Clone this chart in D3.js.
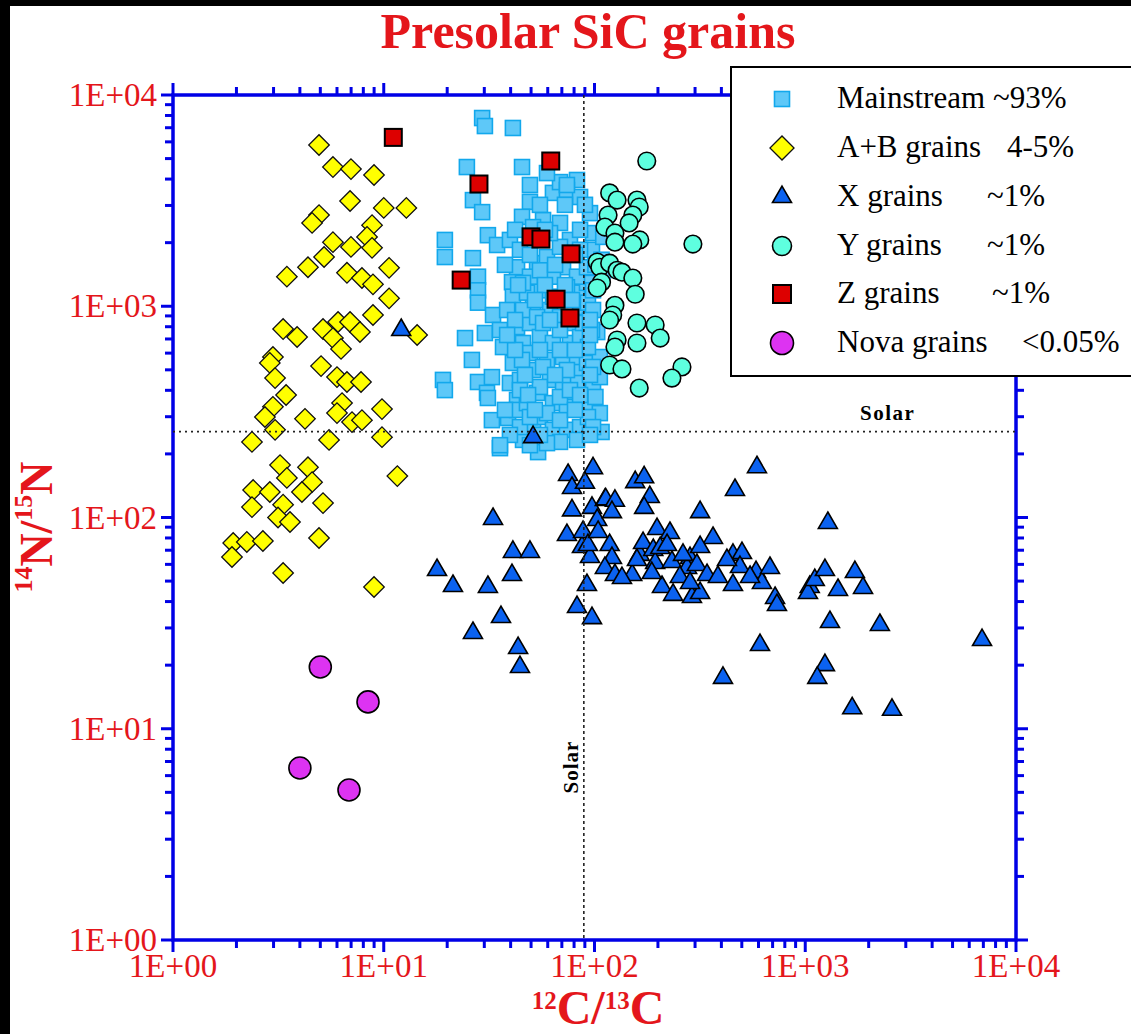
<!DOCTYPE html>
<html><head><meta charset="utf-8">
<script src="https://cdn.jsdelivr.net/npm/d3@7"></script>
<style>body{margin:0;background:#fff;overflow:hidden}</style>
</head><body>
<svg id="chart" width="1131" height="1034"></svg>
<script>
// ---- data: [12C/13C, 14N/15N] ----
const mainstream = [
[29.3,7780],[30.2,7130],[41.0,6980],
[24.8,4560],[45.3,4560],[26.5,3180],[29.3,2790],[19.5,2060],[19.5,1710],[31.2,2170],[34.5,1950],[26.5,1690],
[28.0,1380],[28.0,1190],[28.0,1040],[33.0,909],[24.3,707],[30.2,747],[36.8,641],[26.2,557],[19.1,448],[19.5,401],
[28.0,438],[30.9,389],[32.6,289],[38.9,296],[35.6,213],[54.0,204],[49.4,3120],[63.5,3440],[68.6,3870],[82.6,3960],
[59.5,4270],[45.3,2650],[39.7,2060],[44.3,1850],[42.9,1530],[40.6,1300],[41.0,1110],[38.5,960],[42.9,797],[35.6,772],
[45.8,670],[41.0,539],[39.7,433],[42.9,360],[42.9,323],[51.1,268],[55.1,299],[63.5,260],[74.0,260],[85.4,268],
[92.1,334],[106,312],[103,755],[88.2,621],[85.4,499],[82.6,433],[79.1,372],[98.4,433],[95.2,2760],[98.4,2220],
[97.3,1850],[57.0,2560],[68.6,2480],[76.5,2060],[70.9,1530],[63.5,1380],[53.4,1600],[55.1,1190],[51.1,992],[49.4,833],
[55.1,715],[63.5,670],[76.5,670],[70.9,575],[59.5,557],[51.1,499],[61.5,448],[70.9,433],[53.4,389],[63.5,348],
[74.0,334],[59.5,312],[68.6,289],[47.8,348],[82.6,575],[92.1,539],[85.4,992],[82.6,1160],[92.1,1290],[82.6,1380],
[92.1,1530],[85.4,1850],[49.4,601],[44.3,448],[45.3,557],[47.8,1160],[45.8,960],[61.5,960],[68.6,889],[79.1,833],
[74.0,1230],[63.5,1110],[59.5,1710],[68.6,1910],[51.1,2370],[110,2130],[108,1660],[110,1480],[106,575],[106,462],
[108,254],[82.6,233],[68.6,228],[59.5,225],[45.8,233],[44.3,268],[74.0,3550],[85.4,3290],[31.2,368],[32.6,462],
[97.3,772],[49.4,2130],[55.1,2130],[61.5,2220],[49.4,1380],[55.1,1480],[45.8,1290],[53.4,889],[57.0,833],[68.6,772],
[74.0,499],[57.0,516],[55.1,415],[68.6,372],[44.3,401],[49.4,299],[76.5,401],[85.4,715],[88.2,833],[93.1,1040],
[98.4,1190],[98.4,960],[93.1,641],[98.4,516],[101,372],[93.1,299],[98.4,268],
[55.1,3020],[72.4,3020],[90.1,3020],[42.0,2300],[58.2,2300],[85.4,2300],[49.4,1750],[80.8,1750],
[43.4,1260],[58.2,1260],[72.4,1260],[52.2,1070],[78.2,1070],[42.0,861],[61.5,861],[95.2,861],
[42.0,621],[55.1,621],[68.6,621],[80.8,621],[46.8,473],[65.0,473],[95.2,473],[48.4,380],[85.4,380],
[37.6,323],[52.2,323],[80.8,323],[39.7,246],[55.1,246],[95.2,246],[35.6,220],[49.4,220],
[37.6,1570],[65.0,1570],[101,1570],[38.5,731],[95.2,731],[49.4,3750],[74.0,3750]
];
const abGrains = [
[4.93,5800],[5.74,4560],[6.99,4460],[8.99,4180],[6.92,3150],[10.0,2920],[12.8,2920],[4.93,2700],[4.57,2480],[8.80,2420],
[8.33,2130],[5.74,2010],[6.99,1910],[8.80,1890],[5.21,1710],[4.37,1530],[3.47,1380],[6.69,1440],[7.88,1360],[8.89,1270],
[10.6,1520],[10.6,1090],[8.89,909],[3.33,780],[3.88,715],[5.15,780],[6.07,842],[6.92,842],[7.71,755],[5.74,707],
[6.27,628],[14.4,731],[2.98,575],[2.88,539],[3.05,457],[5.04,521],[6.00,462],[6.69,438],[7.80,438],[3.44,380],
[2.98,334],[2.73,299],[3.05,260],[2.37,228],[4.23,293],[5.50,233],[6.34,348],[6.00,312],[7.07,283],[7.88,289],
[9.81,326],[9.81,240],[3.22,177],[3.47,154],[4.37,173],[4.57,147],[4.09,132],[5.15,117],[11.6,157],[2.40,135],
[2.88,132],[2.37,112],[3.33,115],[3.15,100],[3.59,95.2],[1.93,75.7],[2.24,76.6],[2.67,77.4],[1.905,65.0],[4.93,80],
[3.33,54.6],[8.99,46.9]
];
const xGrains = [
[33.0,98.4],[41.0,68.7],[49.4,68.7],[40.6,53.4],[17.9,56.4],[21.3,47.4],[31.2,46.9],[36.0,33.8],[26.5,28.4],[43.4,24.1],
[44.3,19.6],[51.1,240],[12.1,772],
[74.9,159],[98.4,171],[78.2,138],[90.1,146],[78.2,108],[97.3,111],[112,121],[74.0,82.6],[87.2,72.5],[95.2,65.0],
[92.1,47.9],[82.6,37.7],[97.3,33.4],[88.2,85.4],[93.1,74.1],[103,97.3],[104,85.4],[113,122],[125,120],[121,106],
[118,74.1],[121,64.3],[112,57.7],[125,53.4],[151,53.4],[164,66.5],[170,75.7],[156,147],[172,155],[183,125],[172,111],
[198,88.2],[228,84.5],[190,70.2],[194,60.9],[209,46.9],[236,43.0],[233,61.6],[284,64.3],[317,106],[275,57.7],[306,59.6],
[290,42.0],[317,43.9],[342,53.4],[365,80.0],[317,72.5],[385,52.3],[454,47.9],[454,66.5],[501,67.9],[490,58.3],
[584,55.2],[623,49.0],[680,57.7],[464,135],[590,173],[719,41.6],[734,38.5],[1280,94.2],[1050,46.9],[1030,43.9],
[1110,50.6],[1240,56.4],[1430,45.4],[1720,55.2],[1880,46.4],[1310,32.0],[2260,31.0],[6900,26.3],[610,24.9],[407,17.4],
[1240,20.0],[1140,17.4],[1670,12.5],[2580,12.3],
[159,62.9],[187,54.6],[254,52.3],[263,66.5],[425,62.9],[547,52.3],[284,49.0],[135,51.7],[205,71.7],[221,74.1]
];
const yGrains = [
[177,4870],[118,3440],[128,3180],[159,3180],[163,2950],[116,2700],[152,2700],[146,2480],[112,2370],[125,2220],
[125,2010],[164,2060],[152,1970],[293,1970],[103,1620],[106,1530],[118,1600],[128,1480],[135,1450],[152,1360],
[108,1300],[103,1220],[156,1140],[125,1010],[122,909],[118,861],[159,833],[194,815],[205,707],[128,692],
[159,670],[125,641],[118,527],[135,505],[260,516],[233,457],[163,410]
];
const zGrains = [
[11.1,6300],[62,4870],[28.3,3790],[50,2130],[55.7,2080],[77.4,1770],[23.3,1330],[65.7,1080],[76.5,880]
];
const novaGrains = [[5.0,19.6],[8.42,13.4],[4.0,6.52],[6.84,5.13]];

const decades = [1,10,100,1000,10000];
const tickLabels = ["1E+00","1E+01","1E+02","1E+03","1E+04"];
const solarC = 89, solarN = 255;
const legendLabels = ["Mainstream","A+B grains","X grains","Y grains","Z grains","Nova grains"];
const legendPercents = ["~93%","4-5%","~1%","~1%","~1%","<0.05%"];

// ---- layout ----
const svg = d3.select("#chart");
const L = 173, R = 1016, T = 95, B = 940;
const x = d3.scaleLog().domain([1,1e4]).range([L,R]);
const y = d3.scaleLog().domain([1,1e4]).range([B,T]);
const axisColor = "#0000e6", red = "#e4161b";
const serif = "'Liberation Serif','Times New Roman',serif";

svg.append("rect").attr("width",1131).attr("height",1034).attr("fill","#fff");
svg.append("rect").attr("x",0).attr("y",0).attr("width",1131).attr("height",6).attr("fill","#000");
svg.append("rect").attr("x",0).attr("y",0).attr("width",10).attr("height",1034).attr("fill","#000");

// title
svg.append("text").attr("x",588).attr("y",48).attr("text-anchor","middle")
  .attr("font-family",serif).attr("font-weight","bold").attr("font-size",50).attr("fill",red)
  .text("Presolar SiC grains");

// ticks
const allTicks = [];
decades.slice(0,4).forEach(d => { for (let k=1;k<10;k++) allTicks.push({v:d*k, major:k===1}); });
allTicks.push({v:1e4, major:true});

const g = svg.append("g");
function tl(x1,y1,x2,y2){ g.append("line").attr("x1",x1).attr("y1",y1).attr("x2",x2).attr("y2",y2)
  .attr("stroke",axisColor).attr("stroke-width",3); }
allTicks.forEach(t => {
  const len = t.major ? 12 : 8;
  const px = x(t.v), py = y(t.v);
  tl(px,B,px,B+len);      // bottom
  tl(px,T,px,T-len);      // top
  tl(L,py,L-len,py);      // left
  tl(R,py,R+len,py);      // right
});
// frame
g.append("rect").attr("x",L).attr("y",T).attr("width",R-L).attr("height",B-T)
  .attr("fill","none").attr("stroke",axisColor).attr("stroke-width",3.5);

// tick labels
decades.forEach((d,i) => {
  svg.append("text").attr("x",x(d)).attr("y",B+37).attr("text-anchor","middle")
    .attr("font-family",serif).attr("font-size",33).attr("fill",red).text(tickLabels[i]);
  svg.append("text").attr("x",L-16).attr("y",y(d)+11).attr("text-anchor","end")
    .attr("font-family",serif).attr("font-size",33).attr("fill",red).text(tickLabels[i]);
});

// axis titles
const xt = svg.append("text").attr("x",598).attr("y",1024).attr("text-anchor","middle")
  .attr("font-family",serif).attr("font-weight","bold").attr("font-size",48).attr("fill",red);
xt.append("tspan").attr("font-size",25).attr("dy",-15).text("12");
xt.append("tspan").attr("dy",15).text("C/");
xt.append("tspan").attr("font-size",25).attr("dy",-15).text("13");
xt.append("tspan").attr("dy",15).text("C");

const yt = svg.append("text").attr("transform","translate(52,527) rotate(-90)").attr("text-anchor","middle")
  .attr("font-family",serif).attr("font-weight","bold").attr("font-size",46).attr("fill",red);
yt.append("tspan").attr("font-size",26).attr("dy",-20).text("14");
yt.append("tspan").attr("dy",20).text("N/");
yt.append("tspan").attr("font-size",26).attr("dy",-20).text("15");
yt.append("tspan").attr("dy",20).text("N");

// markers
const plot = svg.append("g");
const sq = d3.symbol().type(d3.symbolSquare);
const tri = d3.symbol().type(d3.symbolTriangle);

function drawMain(gr, px, py, s){
  gr.append("rect").attr("x",px-s/2).attr("y",py-s/2).attr("width",s).attr("height",s)
    .attr("fill","#5ec8f8").attr("stroke","#12a8ec").attr("stroke-width",1.6);
}
function drawAB(gr, px, py, s){
  gr.append("path").attr("transform",`translate(${px},${py}) rotate(45)`).attr("d",sq.size(s*s)())
    .attr("fill","#ffff00").attr("stroke","#111").attr("stroke-width",1.3);
}
function drawX(gr, px, py, s){
  gr.append("path").attr("transform",`translate(${px},${py})`).attr("d",tri.size(s*s*0.433)())
    .attr("fill","#0b62f0").attr("stroke","#000").attr("stroke-width",1.6);
}
function drawY(gr, px, py, r){
  gr.append("circle").attr("cx",px).attr("cy",py).attr("r",r)
    .attr("fill","#5effdf").attr("stroke","#000").attr("stroke-width",1.6);
}
function drawZ(gr, px, py, s){
  gr.append("rect").attr("x",px-s/2).attr("y",py-s/2).attr("width",s).attr("height",s)
    .attr("fill","#dd0000").attr("stroke","#000").attr("stroke-width",2);
}
function drawNova(gr, px, py, r){
  gr.append("circle").attr("cx",px).attr("cy",py).attr("r",r)
    .attr("fill","#dd33f2").attr("stroke","#000").attr("stroke-width",1.6);
}

mainstream.forEach(d => drawMain(plot, x(d[0]), y(d[1]), 15));
abGrains.forEach(d => drawAB(plot, x(d[0]), y(d[1]), 14.5));
xGrains.forEach(d => drawX(plot, x(d[0]), y(d[1]), 19));
yGrains.forEach(d => drawY(plot, x(d[0]), y(d[1]), 8.8));
zGrains.forEach(d => drawZ(plot, x(d[0]), y(d[1]), 17));
novaGrains.forEach(d => drawNova(plot, x(d[0]), y(d[1]), 11));

// solar lines
svg.append("line").attr("x1",L).attr("x2",R).attr("y1",y(solarN)).attr("y2",y(solarN))
  .attr("stroke","#222").attr("stroke-width",1.6).attr("stroke-dasharray","2,4");
svg.append("line").attr("x1",x(solarC)).attr("x2",x(solarC)).attr("y1",T).attr("y2",B)
  .attr("stroke","#222").attr("stroke-width",1.6).attr("stroke-dasharray","3,3");
svg.append("text").attr("x",860).attr("y",y(solarN)-12).attr("font-family",serif)
  .attr("font-weight","bold").attr("font-size",21).attr("letter-spacing",1.5).attr("fill","#000").text("Solar");
svg.append("text").attr("transform",`translate(${x(solarC)-6},767) rotate(-90)`).attr("text-anchor","middle")
  .attr("font-family",serif).attr("font-weight","bold").attr("font-size",21).attr("letter-spacing",1)
  .attr("fill","#000").text("Solar");

// legend
const lg = svg.append("g");
lg.append("rect").attr("x",731).attr("y",67).attr("width",430).attr("height",309)
  .attr("fill","#fff").attr("stroke","#000").attr("stroke-width",2);
const rowY = [99,148,197,246,294,343];
const pctX = [993,1007,987,987,992,1022];
const drawers = [
  (yy)=>drawMain(lg,782,yy,15), (yy)=>drawAB(lg,782,yy,17), (yy)=>drawX(lg,782,yy,19),
  (yy)=>drawY(lg,782,yy,9.5), (yy)=>drawZ(lg,782,yy,18), (yy)=>drawNova(lg,782,yy,11.5)
];
legendLabels.forEach((lab,i) => {
  drawers[i](rowY[i]);
  lg.append("text").attr("x",837).attr("y",rowY[i]+9).attr("font-family",serif).attr("font-size",31)
    .attr("fill","#000").text(lab);
  lg.append("text").attr("x",pctX[i]).attr("y",rowY[i]+9).attr("font-family",serif).attr("font-size",31)
    .attr("fill","#000").text(legendPercents[i]);
});
</script>
</body></html>
